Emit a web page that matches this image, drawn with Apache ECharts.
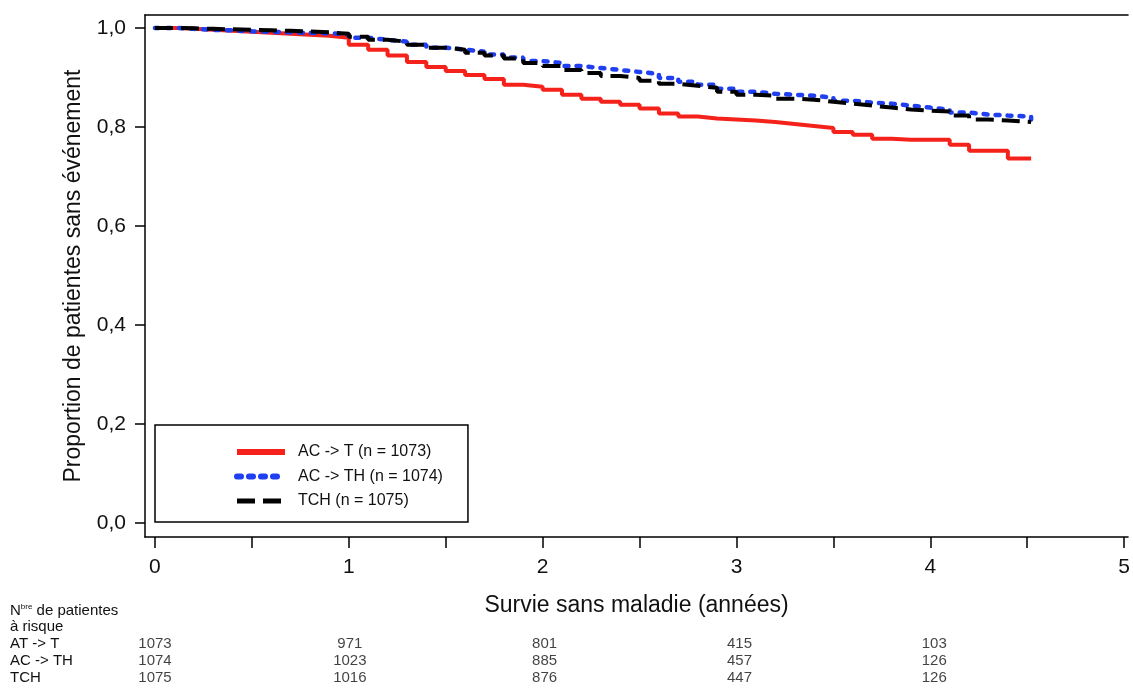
<!doctype html>
<html>
<head>
<meta charset="UTF-8">
<title>Survie sans maladie</title>
<script src="https://cdn.jsdelivr.net/npm/echarts@6/dist/echarts.min.js"></script>
<style>
  html, body { margin: 0; padding: 0; background: #fff; }
  #chart { width: 1133px; height: 689px; }
</style>
</head>
<body>
<div id="chart"></div>
<script>
// temps (années), pas de 0,1
var years = [0, 0.1, 0.2, 0.3, 0.4, 0.5, 0.6, 0.7, 0.8, 0.9,
  1, 1.1, 1.2, 1.3, 1.4, 1.5, 1.6, 1.7, 1.8, 1.9,
  2, 2.1, 2.2, 2.3, 2.4, 2.5, 2.6, 2.7, 2.8, 2.9,
  3, 3.1, 3.2, 3.3, 3.4, 3.5, 3.6, 3.7, 3.8, 3.9,
  4, 4.1, 4.2, 4.3, 4.4, 4.52];

var survieACT = [1.000, 0.998, 0.996, 0.994, 0.992, 0.990, 0.988, 0.986, 0.984, 0.980,
  0.966, 0.956, 0.944, 0.931, 0.921, 0.913, 0.905, 0.897, 0.885, 0.881,
  0.875, 0.865, 0.857, 0.851, 0.845, 0.837, 0.827, 0.821, 0.817, 0.815,
  0.813, 0.810, 0.806, 0.802, 0.798, 0.790, 0.784, 0.776, 0.774, 0.774,
  0.774, 0.764, 0.752, 0.752, 0.736, 0.736];

var survieACTH = [1.000, 0.998, 0.996, 0.995, 0.993, 0.992, 0.991, 0.990, 0.989, 0.987,
  0.980, 0.976, 0.972, 0.966, 0.960, 0.956, 0.952, 0.946, 0.940, 0.933,
  0.929, 0.923, 0.919, 0.915, 0.911, 0.907, 0.899, 0.891, 0.885, 0.877,
  0.871, 0.867, 0.865, 0.863, 0.859, 0.853, 0.849, 0.847, 0.843, 0.839,
  0.835, 0.829, 0.825, 0.823, 0.821, 0.815];

var survieTCH = [1.000, 0.999, 0.998, 0.997, 0.996, 0.995, 0.994, 0.993, 0.991, 0.988,
  0.982, 0.976, 0.972, 0.966, 0.960, 0.956, 0.950, 0.944, 0.938, 0.929,
  0.923, 0.915, 0.909, 0.903, 0.899, 0.893, 0.887, 0.883, 0.879, 0.871,
  0.865, 0.863, 0.857, 0.855, 0.851, 0.847, 0.843, 0.839, 0.835, 0.833,
  0.831, 0.823, 0.815, 0.813, 0.810, 0.810];

var seriesNames = ['AC -> T (n = 1073)', 'AC -> TH (n = 1074)', 'TCH (n = 1075)'];

// patientes à risque
var riskYears = [0, 1, 2, 3, 4];
var riskRows = ['AT -> T', 'AC -> TH', 'TCH'];
var riskACT = [1073, 971, 801, 415, 103];
var riskACTH = [1074, 1023, 885, 457, 126];
var riskTCH = [1075, 1016, 876, 447, 126];

var xTicks = [0, 0.5, 1, 1.5, 2, 2.5, 3, 3.5, 4, 4.5, 5];
var xLabels = [0, 1, 2, 3, 4, 5];
var yTicks = [0, 0.2, 0.4, 0.6, 0.8, 1.0];

var FONT = '"Liberation Sans", Arial, sans-serif';
var X_MIN = -0.0513, X_MAX = 5.02;

function pairs(xs, ys) {
  return xs.map(function (x, i) { return [x, ys[i]]; });
}

var riskData = [];
[riskACT, riskACTH, riskTCH].forEach(function (row, r) {
  row.forEach(function (n, i) { riskData.push([riskYears[i], r, n]); });
});

var chart = echarts.init(document.getElementById('chart'));

var hideSymbol = { opacity: 0 };

var option = {
  backgroundColor: '#fff',
  animation: false,
  grid: [
    { left: 145, top: 15, right: 0, bottom: 152 },
    { left: 145, top: 636, right: 0, bottom: 3 }
  ],
  legend: {
    left: 155,
    top: 425,
    orient: 'vertical',
    align: 'left',
    itemWidth: 48,
    itemHeight: 14,
    itemGap: 8.5,
    padding: [19, 25, 13, 79],
    borderColor: '#000',
    borderWidth: 1.5,
    textStyle: { fontFamily: FONT, fontSize: 16, color: '#111', padding: [0, 0, 0, 8] },
    data: [
      { name: seriesNames[0], lineStyle: { width: 6 }, itemStyle: hideSymbol },
      { name: seriesNames[1], lineStyle: { width: 6 }, itemStyle: hideSymbol },
      { name: seriesNames[2], lineStyle: { width: 5 }, itemStyle: hideSymbol }
    ]
  },
  xAxis: [
    {
      type: 'value', gridIndex: 0, position: 'bottom',
      min: X_MIN, max: X_MAX,
      name: 'Survie sans maladie (années)',
      nameLocation: 'middle', nameGap: 57,
      nameTextStyle: { fontFamily: FONT, fontSize: 23, color: '#111' },
      axisLine: { show: true, onZero: false, lineStyle: { color: '#000', width: 1.5 } },
      axisTick: { show: true, inside: false, length: 11, customValues: xTicks,
        lineStyle: { color: '#000', width: 1.5 } },
      axisLabel: { customValues: xLabels, margin: 20, fontFamily: FONT, fontSize: 21, color: '#111' },
      splitLine: { show: false }
    },
    {
      type: 'value', gridIndex: 0, position: 'top',
      min: X_MIN, max: X_MAX,
      axisLine: { show: true, onZero: false, lineStyle: { color: '#000', width: 1.5 } },
      axisTick: { show: false }, axisLabel: { show: false }, splitLine: { show: false }
    },
    {
      type: 'value', gridIndex: 1, min: X_MIN, max: X_MAX, show: false
    }
  ],
  yAxis: [
    {
      type: 'value', gridIndex: 0,
      min: -0.028, max: 1.026,
      name: 'Proportion de patientes sans événement',
      nameLocation: 'middle', nameGap: 60,
      nameTextStyle: { fontFamily: FONT, fontSize: 23, color: '#111' },
      axisLine: { show: true, onZero: false, lineStyle: { color: '#000', width: 1.5 } },
      axisTick: { show: true, inside: false, length: 10, customValues: yTicks,
        lineStyle: { color: '#000', width: 1.5 } },
      axisLabel: {
        customValues: yTicks, margin: 19, fontFamily: FONT, fontSize: 21, color: '#111',
        formatter: function (v) { return v.toFixed(1).replace('.', ','); }
      },
      splitLine: { show: false }
    },
    {
      type: 'category', gridIndex: 1, inverse: true,
      data: riskRows,
      axisLine: { show: false }, axisTick: { show: false }, splitLine: { show: false },
      axisLabel: { interval: 0, align: 'left', margin: 135, fontFamily: FONT, fontSize: 15, color: '#111' }
    }
  ],
  series: [
    {
      name: seriesNames[0], type: 'line', step: 'end', symbol: 'none',
      xAxisIndex: 0, yAxisIndex: 0,
      data: pairs(years, survieACT),
      lineStyle: { color: '#f5221b', width: 4 },
      itemStyle: { color: '#f5221b' }
    },
    {
      name: seriesNames[1], type: 'line', step: 'end', symbol: 'none',
      xAxisIndex: 0, yAxisIndex: 0,
      data: pairs(years, survieACTH),
      lineStyle: { color: '#1f3ff0', width: 4.5, type: [4, 8], cap: 'round' },
      itemStyle: { color: '#1f3ff0' }
    },
    {
      name: seriesNames[2], type: 'line', step: 'end', symbol: 'none',
      xAxisIndex: 0, yAxisIndex: 0,
      data: pairs(years, survieTCH),
      lineStyle: { color: '#000', width: 4, type: [18, 8] },
      itemStyle: { color: '#000' }
    },
    {
      name: 'risque', type: 'scatter',
      xAxisIndex: 2, yAxisIndex: 1,
      symbolSize: 1,
      itemStyle: { color: 'rgba(0,0,0,0)' },
      encode: { x: 0, y: 1 },
      data: riskData,
      label: {
        show: true, position: 'inside',
        fontFamily: FONT, fontSize: 15, color: '#111',
        formatter: function (p) { return String(p.data[2]); }
      }
    }
  ],
  graphic: [
    {
      type: 'text', left: 10, top: 603,
      style: {
        text: '{n|N}{s|bre}{n| de patientes}',
        rich: {
          n: { fontFamily: FONT, fontSize: 15, fill: '#111' },
          s: { fontFamily: FONT, fontSize: 8, fill: '#111', verticalAlign: 'top', padding: [0, 0, 7, 0] }
        }
      }
    },
    {
      type: 'text', left: 10, top: 619,
      style: { text: 'à risque', fontFamily: FONT, fontSize: 15, fill: '#111' }
    }
  ]
};

chart.setOption(option);
</script>
</body>
</html>
